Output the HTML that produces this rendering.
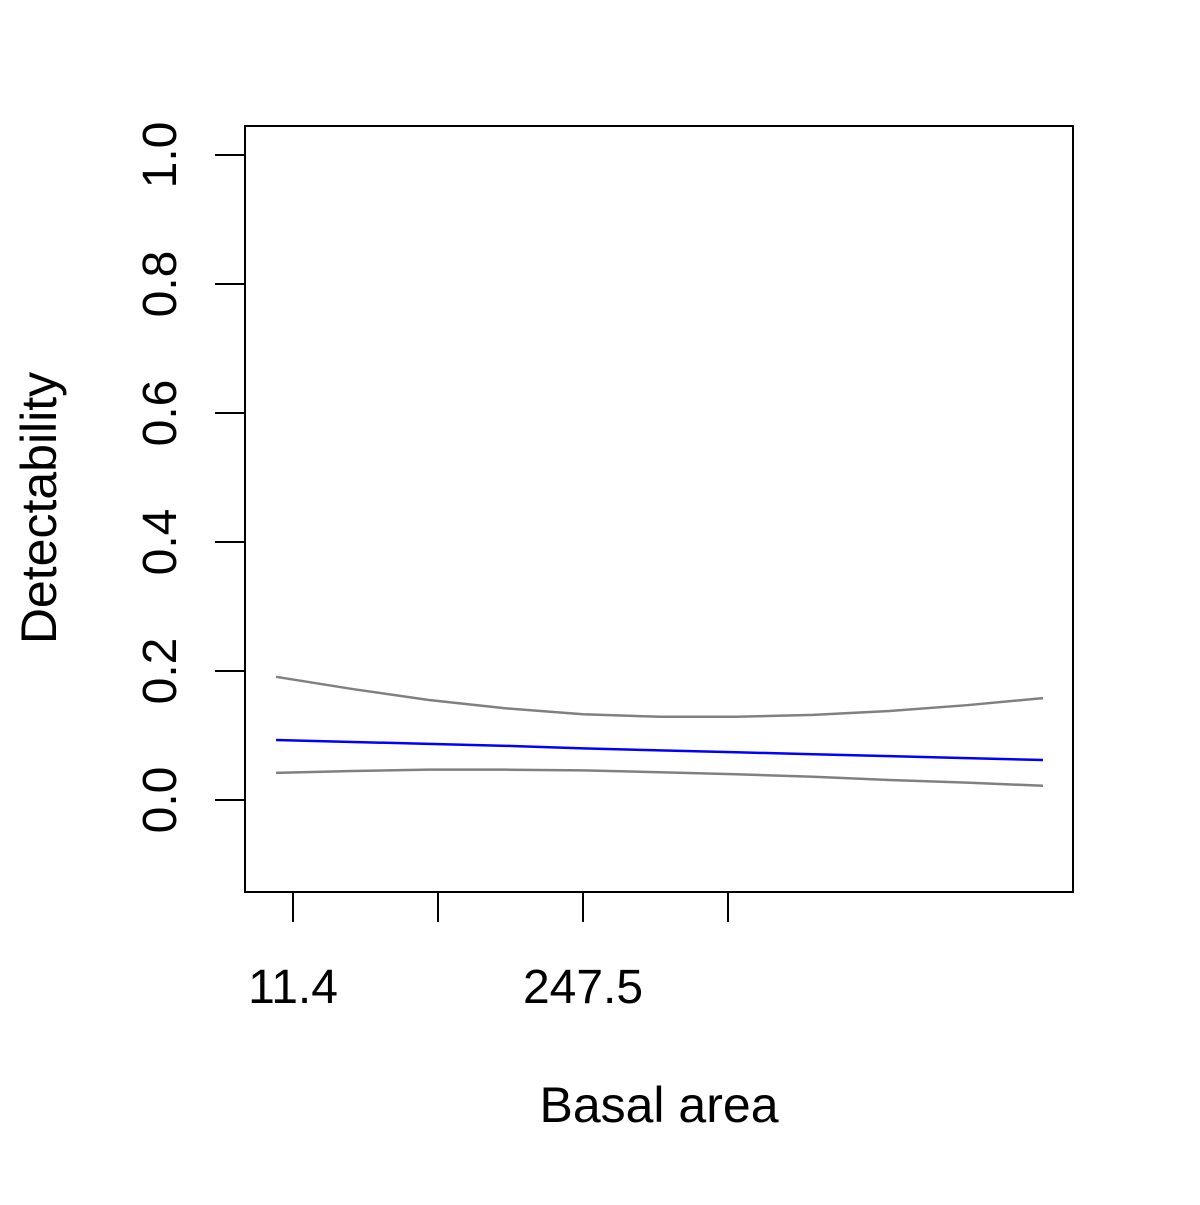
<!DOCTYPE html>
<html><head><meta charset="utf-8"><style>
html,body{margin:0;padding:0;background:#fff}
svg text{font-family:"Liberation Sans",Arial,sans-serif;fill:#000}
</style></head><body>
<svg id="chart" width="1200" height="1200" xmlns="http://www.w3.org/2000/svg">
<rect x="0" y="0" width="1200" height="1200" fill="#fff"/>
<rect x="245" y="126" width="828" height="766" fill="none" stroke="#000" stroke-width="2"/>
<g id="yaxis"></g>
<g id="xaxis"></g>
<g id="series"></g>
<text x="659" y="1122" font-size="50" text-anchor="middle">Basal area</text>
<text transform="translate(56,508) rotate(-90)" font-size="50" text-anchor="middle">Detectability</text>
</svg>
<script>
const xValues = [-2.4, 60, 122, 185, 247.5, 310, 372, 435, 497, 560, 622];
const upperValues = [0.191,0.172,0.155,0.142,0.133,0.129,0.129,0.132,0.138,0.147,0.158];
const meanValues = [0.093,0.090,0.087,0.084,0.080,0.077,0.074,0.071,0.068,0.065,0.062];
const lowerValues = [0.042,0.045,0.047,0.047,0.046,0.043,0.040,0.036,0.031,0.027,0.022];
const yTicks = [0, 0.2, 0.4, 0.6, 0.8, 1.0];
const yTickLabels = ["0.0","0.2","0.4","0.6","0.8","1.0"];
const xTicks = [11.4, 129.45, 247.5, 365.55];
const xTickLabels = ["11.4","","247.5",""];

const NS = "http://www.w3.org/2000/svg";
function sx(v){ return 293 + (v - 11.4) / 118.05 * 145; }
function sy(v){ return 800 - v * 645; }

const ya = document.getElementById('yaxis');
yTicks.forEach((t,i)=>{
  const l=document.createElementNS(NS,'line');
  
  
  l.setAttribute('x1',215);l.setAttribute('x2',245);
  l.setAttribute('y1',sy(t));l.setAttribute('y2',sy(t));
  l.setAttribute('stroke','#000');l.setAttribute('stroke-width','2');
  ya.appendChild(l);
  const tx=document.createElementNS(NS,'text');
  
  
  tx.setAttribute('transform','translate(176,'+sy(t)+') rotate(-90)');
  tx.setAttribute('font-size','48');tx.setAttribute('text-anchor','middle');
  tx.textContent=yTickLabels[i];
  ya.appendChild(tx);
});

const xa = document.getElementById('xaxis');
xTicks.forEach((t,i)=>{
  const l=document.createElementNS(NS,'line');
  
  
  l.setAttribute('x1',sx(t));l.setAttribute('x2',sx(t));
  l.setAttribute('y1',892);l.setAttribute('y2',922);
  l.setAttribute('stroke','#000');l.setAttribute('stroke-width','2');
  xa.appendChild(l);
  if(xTickLabels[i]){
    const tx=document.createElementNS(NS,'text');
    
    
    tx.setAttribute('x',sx(t));tx.setAttribute('y',1003);
    tx.setAttribute('font-size','48');tx.setAttribute('text-anchor','middle');
    tx.textContent=xTickLabels[i];
    xa.appendChild(tx);
  }
});

const sg = document.getElementById('series');
function drawLine(vals, color, name){
  const p=document.createElementNS(NS,'polyline');
  
  
  p.setAttribute('points', vals.map((v,i)=>sx(xValues[i])+','+sy(v)).join(' '));
  p.setAttribute('fill','none');p.setAttribute('stroke',color);p.setAttribute('stroke-width','2.5');
  sg.appendChild(p);
}
drawLine(upperValues,'#808080','upper-ci-line');
drawLine(lowerValues,'#808080','lower-ci-line');
drawLine(meanValues,'#0000ff','mean-line');
</script>
</body></html>
